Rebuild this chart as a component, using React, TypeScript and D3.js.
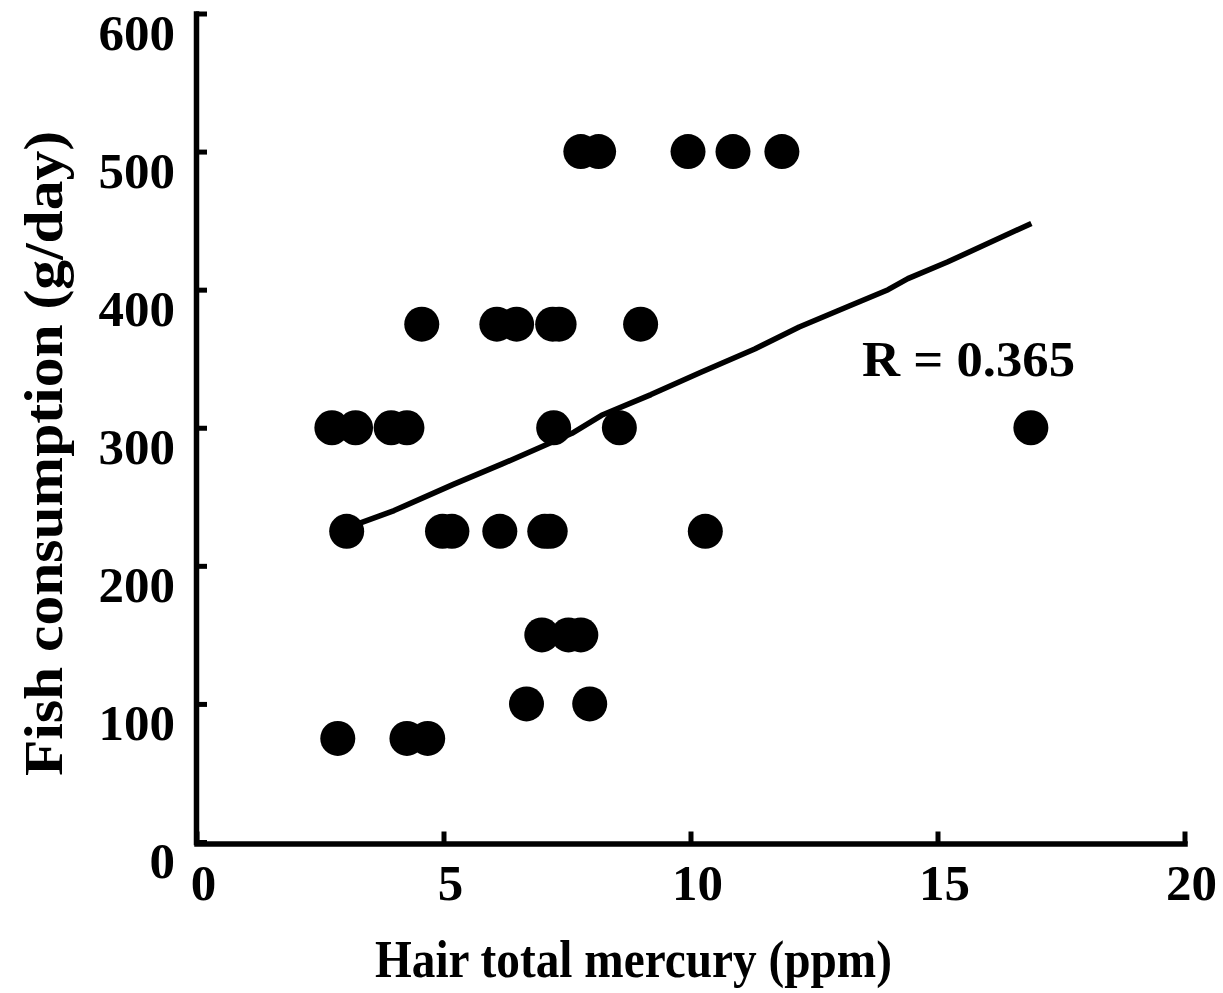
import React, { useEffect, useRef } from 'react';
import * as d3 from 'd3';

// Hair total mercury (ppm) for each subject
const hairMercury: number[] = [
  7.78, 8.14, 9.95, 10.86, 11.85,
  4.56, 6.08, 6.48, 7.21, 7.34, 8.99,
  2.74, 3.22, 3.94, 4.26, 7.23, 8.56, 16.89,
  3.04, 4.98, 5.17, 6.14, 7.05, 7.16, 10.3,
  6.99, 7.53, 7.78,
  6.68, 7.96,
  2.86, 4.26, 4.68,
];
// Fish consumption (g/day) for each subject
const fishConsumption: number[] = [
  500, 500, 500, 500, 500,
  375, 375, 375, 375, 375, 375,
  300, 300, 300, 300, 300, 300, 300,
  225, 225, 225, 225, 225, 225, 225,
  150, 150, 150,
  100, 100,
  75, 75, 75,
];
// Fitted line (as drawn in the figure)
const fitMercury: number[] = [3.0, 4.0, 5.2, 6.2, 7.1, 7.6, 8.2, 9.2, 10.2, 11.3, 12.2, 13.2, 14.0, 14.4, 15.2, 16.9];
const fitConsumption: number[] = [227, 240, 259, 274, 288, 296, 309, 324, 340, 357, 373, 388, 400, 408, 420, 448];

const xTicks: number[] = [0, 5, 10, 15, 20];
const yTicks: number[] = [0, 100, 200, 300, 400, 500, 600];
const xTitle = 'Hair total mercury (ppm)';
const yTitle = 'Fish consumption (g/day)';
const annotation = 'R = 0.365';

const W = 1223;
const H = 993;
const FONT = '"Liberation Serif", "Times New Roman", serif';

export default function App() {
  const ref = useRef<SVGSVGElement>(null);

  useEffect(() => {
    const svg = d3.select(ref.current);
    svg.selectAll('*').remove();

    const x = d3.scaleLinear().domain([0, 20]).range([196.5, 1184.5]);
    const y = d3.scaleLinear().domain([0, 600]).range([842, 13.5]);
    const xAxisY = 844;

    // Y axis (ticks pointing inward)
    const gy = svg.append('g').attr('transform', `translate(${x(0) - 0.5},0)`)
      .call(d3.axisRight(y).tickValues(yTicks).tickSize(11).tickSizeOuter(0).tickFormat(() => ''));
    gy.select('.domain').attr('stroke', '#000').attr('stroke-width', 5.5).attr('stroke-linecap', 'square');
    gy.selectAll('.tick line').attr('stroke', '#000').attr('stroke-width', 5);

    // X axis (ticks pointing upward)
    const gx = svg.append('g').attr('transform', `translate(0,${xAxisY - 0.5})`)
      .call(d3.axisBottom(x).tickValues(xTicks).tickSize(-12).tickSizeOuter(0).tickFormat(() => ''));
    gx.select('.domain').attr('stroke', '#000').attr('stroke-width', 5.5).attr('stroke-linecap', 'square');
    gx.selectAll('.tick line').attr('stroke', '#000').attr('stroke-width', 5);

    // Tick labels
    svg.append('g').selectAll('text').data(yTicks).join('text')
      .attr('x', 175).attr('y', d => y(d) + 36)
      .attr('text-anchor', 'end')
      .attr('font-family', FONT).attr('font-weight', 'bold').attr('font-size', 51)
      .text(d => String(d));
    svg.append('g').selectAll('text').data(xTicks).join('text')
      .attr('x', d => x(d) + 7).attr('y', 900)
      .attr('text-anchor', 'middle')
      .attr('font-family', FONT).attr('font-weight', 'bold').attr('font-size', 51)
      .text(d => String(d));

    // Axis titles
    svg.append('text')
      .attr('x', 633.5).attr('y', 977)
      .attr('text-anchor', 'middle')
      .attr('font-family', FONT).attr('font-weight', 'bold').attr('font-size', 52)
      .attr('textLength', 517).attr('lengthAdjust', 'spacingAndGlyphs')
      .text(xTitle);
    svg.append('text')
      .attr('transform', `translate(62,453.5) rotate(-90)`)
      .attr('text-anchor', 'middle')
      .attr('font-family', FONT).attr('font-weight', 'bold').attr('font-size', 54)
      .attr('textLength', 645).attr('lengthAdjust', 'spacingAndGlyphs')
      .text(yTitle);

    // Fit line
    const fitData = fitMercury.map((m, i) => [m, fitConsumption[i]] as [number, number]);
    svg.append('path')
      .datum(fitData)
      .attr('fill', 'none').attr('stroke', '#000').attr('stroke-width', 5.5)
      .attr('stroke-linejoin', 'round')
      .attr('d', d3.line<[number, number]>().x(d => x(d[0])).y(d => y(d[1])));

    // Points
    const pts = hairMercury.map((m, i) => [m, fishConsumption[i]] as [number, number]);
    svg.append('g').selectAll('circle').data(pts).join('circle')
      .attr('cx', d => x(d[0])).attr('cy', d => y(d[1])).attr('r', 17.5)
      .attr('fill', '#000');

    // Annotation
    svg.append('text')
      .attr('x', 862).attr('y', 376)
      .attr('font-family', FONT).attr('font-weight', 'bold').attr('font-size', 50)
      .attr('textLength', 213).attr('lengthAdjust', 'spacingAndGlyphs')
      .text(annotation);
  }, []);

  return (
    <svg
      ref={ref}
      width={W}
      height={H}
      viewBox={`0 0 ${W} ${H}`}
      style={{ position: 'absolute', left: 0, top: 0, background: '#fff' }}
    />
  );
}
